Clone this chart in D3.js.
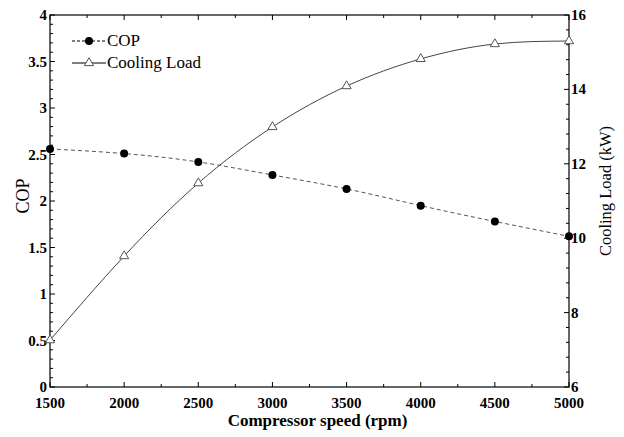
<!DOCTYPE html>
<html>
<head>
<meta charset="utf-8">
<script src="https://cdn.jsdelivr.net/npm/d3@7"></script>
<style>
body { margin: 0; background: #fff; }
text { font-family: "Liberation Serif", "Times New Roman", serif; }
</style>
</head>
<body>
<script>
var speeds = [1500, 2000, 2500, 3000, 3500, 4000, 4500, 5000];
var cop = [2.56, 2.51, 2.42, 2.28, 2.13, 1.95, 1.78, 1.62];
var coolingLoad = [7.26, 9.52, 11.48, 12.99, 14.09, 14.82, 15.22, 15.30];
var copTicks = [0, 0.5, 1, 1.5, 2, 2.5, 3, 3.5, 4];
var loadTicks = [6, 8, 10, 12, 14, 16];

var w = 624;
var h = 437;
var margin = {left: 50, right: 55, top: 15, bottom: 50};

var svg = d3.select("body")
            .append("svg")
            .attr("width", w)
            .attr("height", h);

var x = d3.scaleLinear().domain([1500, 5000]).range([margin.left, w - margin.right]);
var yL = d3.scaleLinear().domain([0, 4]).range([h - margin.bottom, margin.top]);
var yR = d3.scaleLinear().domain([6, 16]).range([h - margin.bottom, margin.top]);

var x0 = margin.left, x1 = w - margin.right;
var y0 = h - margin.bottom, y1 = margin.top;

// frame
svg.append("rect")
  .attr("x", x0).attr("y", y1)
  .attr("width", x1 - x0).attr("height", y0 - y1)
  .attr("fill", "none").attr("stroke", "#000").attr("stroke-width", 1.2);

// ticks, all pointing inward
var xMinor = d3.range(1500, 5001, 250);
svg.append("g").selectAll("line").data(xMinor).enter().append("line")
  .attr("x1", d => x(d)).attr("x2", d => x(d))
  .attr("y1", y0).attr("y2", d => y0 - (d % 500 == 0 ? 5 : 3))
  .attr("stroke", "#000");
svg.append("g").selectAll("line").data(xMinor).enter().append("line")
  .attr("x1", d => x(d)).attr("x2", d => x(d))
  .attr("y1", y1).attr("y2", d => y1 + (d % 500 == 0 ? 5 : 3))
  .attr("stroke", "#000");
var lMinor = d3.range(0, 41).map(d => d / 10);
svg.append("g").selectAll("line").data(lMinor).enter().append("line")
  .attr("y1", d => yL(d)).attr("y2", d => yL(d))
  .attr("x1", x0).attr("x2", (d, i) => x0 + (i % 5 == 0 ? 5 : 3))
  .attr("stroke", "#000");
var rMinor = d3.range(0, 26).map(d => 6 + d * 0.4);
svg.append("g").selectAll("line").data(rMinor).enter().append("line")
  .attr("y1", d => yR(d)).attr("y2", d => yR(d))
  .attr("x1", x1).attr("x2", (d, i) => x1 - (i % 5 == 0 ? 5 : 3))
  .attr("stroke", "#000");

// tick labels
svg.selectAll(".xl").data(speeds).enter().append("text")
  .attr("class", "xl")
  .attr("x", d => x(d)).attr("y", y0 + 21)
  .attr("text-anchor", "middle")
  .attr("font-size", 15).attr("font-weight", "bold")
  .text(d => d);
svg.selectAll(".yl").data(copTicks).enter().append("text")
  .attr("class", "yl")
  .attr("x", x0 - 3).attr("y", d => yL(d) + 5)
  .attr("text-anchor", "end")
  .attr("font-size", 15).attr("font-weight", "bold")
  .text(d => d);
svg.selectAll(".yr").data(loadTicks).enter().append("text")
  .attr("class", "yr")
  .attr("x", x1 + 2).attr("y", d => yR(d) + 5)
  .attr("font-size", 15).attr("font-weight", "bold")
  .text(d => d);

// axis titles
svg.append("text")
  .attr("x", (x0 + x1) / 2 + 8).attr("y", h - 11)
  .attr("text-anchor", "middle")
  .attr("font-size", 17).attr("font-weight", "bold")
  .text("Compressor speed (rpm)");
svg.append("text")
  .attr("transform", "translate(29,196) rotate(-90)")
  .attr("text-anchor", "middle")
  .attr("font-size", 18)
  .text("COP");
svg.append("text")
  .attr("transform", "translate(611,191) rotate(-90)")
  .attr("text-anchor", "middle")
  .attr("font-size", 16.5)
  .text("Cooling Load (kW)");

// lines
var copLine = d3.line()
  .x((d, i) => x(speeds[i]))
  .y(d => yL(d))
  .curve(d3.curveNatural);
var loadLine = d3.line()
  .x((d, i) => x(speeds[i]))
  .y(d => yR(d))
  .curve(d3.curveNatural);

svg.append("path")
  .attr("d", copLine(cop))
  .attr("fill", "none").attr("stroke", "#555")
  .attr("stroke-width", 1).attr("stroke-dasharray", "4,3");
svg.append("path")
  .attr("d", loadLine(coolingLoad))
  .attr("fill", "none").attr("stroke", "#444")
  .attr("stroke-width", 1);

var tri = d3.symbol().type(d3.symbolTriangle).size(36);

svg.selectAll(".cop").data(cop).enter().append("circle")
  .attr("class", "cop")
  .attr("cx", (d, i) => x(speeds[i])).attr("cy", d => yL(d))
  .attr("r", 4).attr("fill", "#000");
svg.selectAll(".load").data(coolingLoad).enter().append("path")
  .attr("class", "load")
  .attr("d", tri)
  .attr("transform", (d, i) => "translate(" + x(speeds[i]) + "," + yR(d) + ")")
  .attr("fill", "#fff").attr("stroke", "#555").attr("stroke-width", 1);

// legend
var lg = svg.append("g");
lg.append("line").attr("x1", 72).attr("x2", 106).attr("y1", 41).attr("y2", 41)
  .attr("stroke", "#000").attr("stroke-dasharray", "3,2");
lg.append("circle").attr("cx", 89).attr("cy", 41).attr("r", 4).attr("fill", "#000");
lg.append("text").attr("x", 107).attr("y", 46).attr("font-size", 17).text("COP");
lg.append("line").attr("x1", 72).attr("x2", 106).attr("y1", 63).attr("y2", 63)
  .attr("stroke", "#000");
lg.append("path").attr("d", tri).attr("transform", "translate(89,63)")
  .attr("fill", "#fff").attr("stroke", "#555");
lg.append("text").attr("x", 107).attr("y", 68).attr("font-size", 17).text("Cooling Load");
</script>
</body>
</html>
